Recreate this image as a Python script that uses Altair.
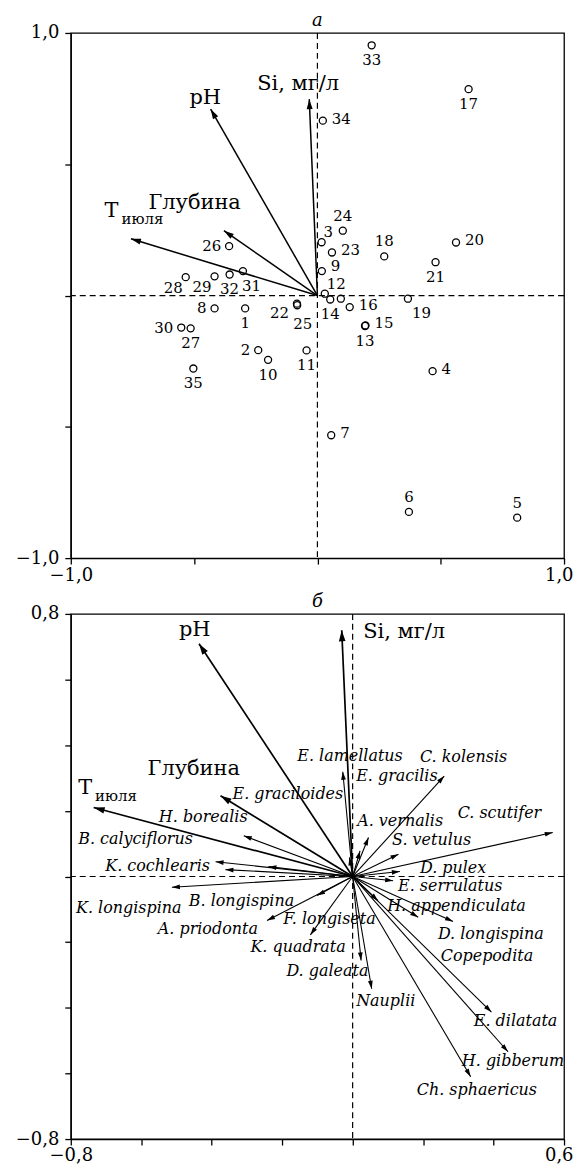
import math
import altair as alt
import pandas as pd

FONT = "DejaVu Serif"

# ---------------- Panel а: sites ----------------
site_labels = [str(i) for i in range(1, 36)] + [""]
site_x = [-0.293, -0.240, 0.017, 0.467, 0.810, 0.371, 0.056, -0.417, 0.018, -0.200,
          -0.044, 0.030, 0.193, 0.052, 0.195, 0.131, 0.613, 0.271, 0.367, 0.562,
          0.479, -0.083, 0.059, 0.103, -0.082, -0.358, -0.514, -0.534, -0.417, -0.552,
          -0.302, -0.356, 0.220, 0.022, -0.503, 0.095]
site_y = [-0.049, -0.208, 0.203, -0.288, -0.846, -0.824, -0.532, -0.049, 0.093, -0.245,
          -0.209, 0.007, -0.116, -0.015, -0.114, -0.044, 0.786, 0.149, -0.012, 0.202,
          0.127, -0.031, 0.164, 0.247, -0.037, 0.188, -0.125, 0.070, 0.073, -0.122,
          0.093, 0.080, 0.953, 0.666, -0.278, -0.012]
# where each number sits relative to its circle
site_label_pos = ["b", "l", "tr", "r", "t", "t", "r", "l", "rt", "b",
                  "b", "tr", "b", "b", "r", "r", "b", "t", "br", "r",
                  "b", "l2", "r", "t", "b2", "l", "b", "bl", "bl", "l",
                  "bR", "b", "b", "r", "b", "b"]

# ---------------- environmental vectors ----------------
env_labels = ["T", "Глубина", "pH", "Si, мг/л"]
env_sub = ["июля", "", "", ""]
env_a_x = [-0.756, -0.379, -0.433, -0.033]
env_a_y = [0.216, 0.247, 0.710, 0.748]
env_a_label_x = [-0.863, -0.685, -0.519, -0.244]
env_a_label_y = [0.323, 0.352, 0.753, 0.806]

env_b_x = [-0.735, -0.375, -0.436, -0.031]
env_b_y = [0.210, 0.246, 0.709, 0.750]
env_b_label_x = [-0.779, -0.582, -0.493, 0.030]
env_b_label_y = [0.270, 0.327, 0.752, 0.746]

# ---------------- Panel б: species ----------------
sp_names = ["E. lamellatus", "E. gracilis", "C. kolensis", "A. vernalis", "S. vetulus",
            "C. scutifer", "D. pulex", "E. serrulatus", "H. appendiculata", "D. longispina",
            "Copepodita", "E. dilatata", "H. gibberum", "Ch. sphaericus", "D. galeata",
            "Nauplii", "E. graciloides", "H. borealis", "B. calyciflorus", "K. cochlearis",
            "K. longispina", "B. longispina", "A. priodonta", "F. longiseta", "K. quadrata"]
sp_x = [-0.028, 0.021, 0.260, 0.045, 0.130, 0.568, 0.134, 0.115, 0.072, 0.285,
        0.186, 0.394, 0.441, 0.335, 0.024, 0.054, -0.009, -0.309, -0.361, -0.389,
        -0.513, -0.239, -0.243, -0.101, -0.120]
sp_y = [0.319, 0.078, 0.306, 0.119, 0.068, 0.134, 0.015, -0.013, -0.074, -0.137,
        -0.124, -0.413, -0.534, -0.610, -0.256, -0.342, 0.058, 0.124, 0.021, 0.045,
        -0.033, 0.030, -0.134, -0.058, -0.178]
sp_label_x = [-0.157, 0.010, 0.191, 0.013, 0.112, 0.298, 0.191, 0.129, 0.098, 0.242,
              0.250, 0.344, 0.310, 0.182, -0.188, 0.010, -0.341, -0.550, -0.779, -0.702,
              -0.785, -0.465, -0.553, -0.197, -0.290]
sp_label_y = [0.366, 0.305, 0.363, 0.169, 0.111, 0.193, 0.026, -0.028, -0.090, -0.175,
              -0.242, -0.439, -0.561, -0.652, -0.289, -0.378, 0.251, 0.181, 0.114, 0.032,
              -0.096, -0.074, -0.159, -0.129, -0.214]

origin = [0.0]

# axis ticks
a_ticks = [-1.0, -0.5, 0.0, 0.5, 1.0]
b_xticks = [-0.8, -0.6, -0.4, -0.2, 0.0, 0.2, 0.4, 0.6]
b_yticks = [-0.8, -0.6, -0.4, -0.2, 0.0, 0.2, 0.4, 0.6, 0.8]

W, H = 495, 527

HEAD = "M0,0L0.3,1L-0.3,1Z"


def label_expr(lo, lo_txt, hi, hi_txt):
    return (f"abs(datum.value - ({lo})) < 1e-6 ? '{lo_txt}' : "
            f"(abs(datum.value - ({hi})) < 1e-6 ? '{hi_txt}' : '')")


def make_enc(xdom, ydom, xticks, yticks, xexpr, yexpr):
    xs = alt.Scale(domain=xdom, nice=False, zero=False)
    ys = alt.Scale(domain=ydom, nice=False, zero=False)
    last = f"datum.value > {xdom[1]} - 1e-6"
    ax = alt.Axis(values=xticks, labelExpr=xexpr, title=None, grid=False, tickSize=6,
                  labelFlush=False, labelOverlap=False, labelPadding=2,
                  labelAlign={"condition": {"test": last, "value": "right"}, "value": "center"},
                  labelOffset={"condition": {"test": last, "value": 9}, "value": 0})
    ay = alt.Axis(values=yticks, labelExpr=yexpr, title=None, grid=False, tickSize=6,
                  labelFlush=False, labelOverlap=False, labelPadding=6)

    def X(f):
        return alt.X(f, type="quantitative", scale=xs, axis=ax)

    def Y(f):
        return alt.Y(f, type="quantitative", scale=ys, axis=ay)
    return X, Y


def head_angle(dx, dy, sx, sy):
    return (math.degrees(math.atan2(dx * sx, dy * sy)) + 360.0) % 360.0


def arrows(X, Y, xs, ys, sx, sy, width, head_size):
    df = pd.DataFrame({"x0": origin * len(xs), "y0": origin * len(xs), "x": xs, "y": ys})
    df["ang"] = [head_angle(a, b, sx, sy) for a, b in zip(xs, ys)]
    lines = alt.Chart(df).mark_rule(color="black", strokeWidth=width).encode(
        x=X("x0"), y=Y("y0"), x2=alt.X2("x"), y2=alt.Y2("y"))
    heads = alt.Chart(df).mark_point(shape=HEAD, filled=True, color="black", opacity=1,
                                     size=head_size, strokeWidth=0).encode(
        x=X("x"), y=Y("y"), angle=alt.Angle("ang:Q", scale=None))
    return [lines, heads]


def zero_lines(X, Y):
    z = pd.DataFrame({"v": origin})
    v = alt.Chart(z).mark_rule(color="black", strokeWidth=1.2, strokeDash=[6, 4]).encode(x=X("v"))
    h = alt.Chart(z).mark_rule(color="black", strokeWidth=1.2, strokeDash=[6, 4]).encode(y=Y("v"))
    return [v, h]


def env_text(X, Y, lx, ly):
    df = pd.DataFrame({"x": lx, "y": ly, "t": env_labels, "s": env_sub})
    main = alt.Chart(df).mark_text(font=FONT, fontSize=21, align="left", baseline="middle",
                                   color="black").encode(x=X("x"), y=Y("y"), text="t:N")
    sub = alt.Chart(df).mark_text(font=FONT, fontSize=15, align="left", baseline="middle",
                                  color="black", dx=17, dy=8).encode(x=X("x"), y=Y("y"), text="s:N")
    return [main, sub]


def panel_title(txt):
    return alt.TitleParams(txt, font=FONT, fontStyle="italic", fontWeight="normal",
                           fontSize=18, offset=-6, anchor="middle", color="black")


# ---------------- Panel а ----------------
Xa, Ya = make_enc([-1, 1], [-1, 1], a_ticks, a_ticks,
                  label_expr(-1, "−1,0", 1, "1,0"), label_expr(-1, "−1,0", 1, "1,0"))
sxa, sya = W / 2.0, H / 2.0

sites = pd.DataFrame({"x": site_x, "y": site_y, "lab": site_labels, "pos": site_label_pos})
circles = alt.Chart(sites).mark_point(shape="circle", filled=False, color="black",
                                      size=50, strokeWidth=1.3, opacity=1).encode(
    x=Xa("x"), y=Ya("y"))

pos_style = {
    "b": dict(align="center", dx=0, dy=15),
    "b2": dict(align="left", dx=-4, dy=19),
    "bR": dict(align="left", dx=-1, dy=15),
    "t": dict(align="center", dx=0, dy=-15),
    "l": dict(align="right", dx=-8, dy=0),
    "l2": dict(align="right", dx=-8, dy=9),
    "r": dict(align="left", dx=9, dy=-2),
    "rt": dict(align="left", dx=9, dy=-5),
    "tr": dict(align="left", dx=2, dy=-10),
    "br": dict(align="left", dx=4, dy=14),
    "bl": dict(align="right", dx=-3, dy=11),
}
site_texts = []
for code, st in pos_style.items():
    site_texts.append(
        alt.Chart(sites).transform_filter(alt.datum.pos == code).mark_text(
            font=FONT, fontSize=15, baseline="middle", color="black", **st).encode(
            x=Xa("x"), y=Ya("y"), text="lab:N"))

layers_a = (zero_lines(Xa, Ya) + arrows(Xa, Ya, env_a_x, env_a_y, sxa, sya, 1.5, 400)
            + [circles] + site_texts + env_text(Xa, Ya, env_a_label_x, env_a_label_y))
panel_a = alt.layer(*layers_a).properties(width=W, height=H, title=panel_title("а"))

# ---------------- Panel б ----------------
Xb, Yb = make_enc([-0.8, 0.6], [-0.8, 0.8], b_xticks, b_yticks,
                  label_expr(-0.8, "−0,8", 0.6, "0,6"), label_expr(-0.8, "−0,8", 0.8, "0,8"))
sxb, syb = W / 1.4, H / 1.6

sp_df = pd.DataFrame({"x": sp_label_x, "y": sp_label_y, "t": sp_names})
sp_text = alt.Chart(sp_df).mark_text(font=FONT, fontSize=16, fontStyle="italic", align="left",
                                     baseline="middle", color="black").encode(
    x=Xb("x"), y=Yb("y"), text="t:N")

layers_b = (zero_lines(Xb, Yb)
            + arrows(Xb, Yb, sp_x, sp_y, sxb, syb, 1.1, 256)
            + arrows(Xb, Yb, env_b_x, env_b_y, sxb, syb, 1.7, 484)
            + [sp_text] + env_text(Xb, Yb, env_b_label_x, env_b_label_y))
panel_b = alt.layer(*layers_b).properties(width=W, height=H, title=panel_title("б"))

chart = alt.vconcat(panel_a, panel_b, spacing=56, bounds="flush").properties(
    padding={"left": 6, "top": 1, "right": 0, "bottom": 0}
).configure_view(stroke="black", strokeWidth=1.3).configure_axis(
    domainColor="black", domainWidth=1.3, tickColor="black", tickWidth=1.3,
    labelFont=FONT, labelFontSize=18, labelColor="black"
)

chart.save("out.html", embed_options={"renderer": "svg", "actions": False})
